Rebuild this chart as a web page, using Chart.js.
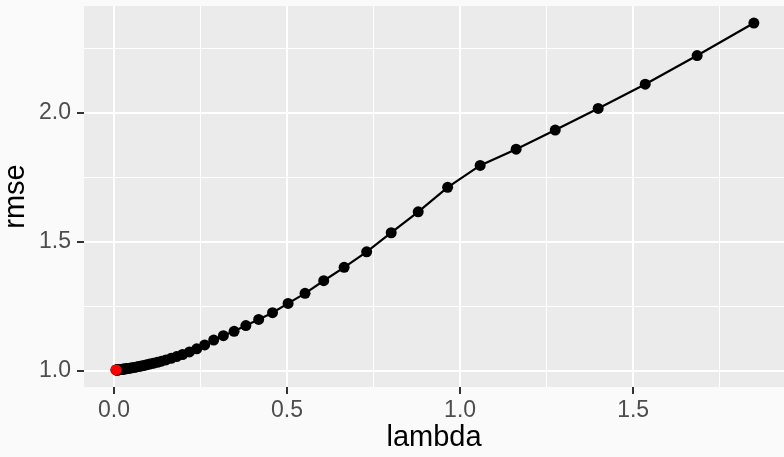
<!DOCTYPE html>
<html>
<head>
<meta charset="utf-8">
<script src="https://cdn.jsdelivr.net/npm/chart.js@4.4.1/dist/chart.umd.min.js"></script>
<style>
  html, body { margin: 0; padding: 0; background: #FAFAFA; overflow: hidden; }
  #wrap { width: 784px; height: 457px; position: relative; }
</style>
</head>
<body>
<div id="wrap"><canvas id="c" width="784" height="457"></canvas></div>
<script>
// ---- data ----
const lambdaValues = [
  1.849, 1.685, 1.535, 1.399, 1.275, 1.162, 1.058, 0.964, 0.879, 0.801,
  0.730, 0.665, 0.606, 0.552, 0.503, 0.458, 0.418, 0.381, 0.347, 0.316,
  0.288, 0.262, 0.239, 0.218, 0.198, 0.181, 0.165, 0.150, 0.137, 0.125,
  0.113, 0.103, 0.0941, 0.0858, 0.0781, 0.0712, 0.0649, 0.0591, 0.0539, 0.0491,
  0.0447, 0.0408, 0.0371, 0.0338, 0.0308, 0.0281, 0.0256, 0.0233, 0.0213, 0.0194,
  0.0177, 0.0161, 0.0147, 0.0134, 0.0122, 0.0111, 0.0101, 0.0092, 0.0084, 0.0077,
  0.0070, 0.0064, 0.0058
];
const rmseValues = [
  2.349, 2.223, 2.112, 2.018, 1.934, 1.860, 1.797, 1.712, 1.617, 1.536,
  1.462, 1.402, 1.350, 1.301, 1.262, 1.226, 1.200, 1.176, 1.154, 1.137,
  1.120, 1.101, 1.086, 1.074, 1.064, 1.056, 1.049, 1.043, 1.038, 1.034,
  1.030, 1.027, 1.024, 1.021, 1.019, 1.017, 1.016, 1.014, 1.013, 1.012,
  1.011, 1.010, 1.009, 1.0085, 1.008, 1.0075, 1.007, 1.0065, 1.006, 1.0058,
  1.0055, 1.0053, 1.005, 1.0048, 1.0047, 1.0046, 1.0045, 1.0044, 1.0043, 1.0042,
  1.0041, 1.0041, 1.004
];
const bestLambda = [0.0058];
const bestRmse = [1.004];

const xTickValues = [0, 0.25, 0.5, 0.75, 1.0, 1.25, 1.5, 1.75];
const xTickLabels = ['0.0', '', '0.5', '', '1.0', '', '1.5', ''];
const yTickValues = [1.0, 1.25, 1.5, 1.75, 2.0, 2.25];
const yTickLabels = ['1.0', '', '1.5', '', '2.0', ''];
const xTitle = 'lambda';
const yTitle = 'rmse';

// ---- build chart ----
const mainPts = lambdaValues.map((x, i) => ({ x: x, y: rmseValues[i] }));
const bestPts = bestLambda.map((x, i) => ({ x: x, y: bestRmse[i] }));

const panelBg = {
  id: 'panelBg',
  beforeDraw(chart) {
    const { ctx, chartArea: a } = chart;
    ctx.save();
    ctx.fillStyle = '#FAFAFA';
    ctx.fillRect(0, 0, chart.width, chart.height);
    ctx.fillStyle = '#EBEBEB';
    ctx.fillRect(a.left, a.top, a.right - a.left, a.bottom - a.top);
    ctx.restore();
  }
};

function isMajor(labels, ctx) {
  const idx = ctx.index;
  return labels[idx] !== undefined && labels[idx] !== '';
}

new Chart(document.getElementById('c'), {
  type: 'scatter',
  data: {
    datasets: [
      {
        data: mainPts,
        showLine: true,
        borderColor: '#000000',
        borderWidth: 2.2,
        backgroundColor: '#000000',
        pointRadius: 5.5,
        pointBorderWidth: 0,
        pointHoverRadius: 5.5,
        order: 2
      },
      {
        data: bestPts,
        showLine: false,
        backgroundColor: '#FF0000',
        borderColor: '#FF0000',
        pointRadius: 5.5,
        pointBorderWidth: 0,
        order: 1
      }
    ]
  },
  options: {
    responsive: false,
    animation: false,
    events: [],
    layout: { autoPadding: false, padding: { top: 6, right: 0, left: 0, bottom: 0 } },
    plugins: { legend: { display: false }, tooltip: { enabled: false } },
    scales: {
      x: {
        type: 'linear',
        min: -0.0867,
        max: 1.936,
        afterBuildTicks(scale) { scale.ticks = xTickValues.map(v => ({ value: v })); },
        afterFit(scale) {
          scale.height = 70;
          scale.paddingLeft = 0; scale.paddingRight = 0;
          scale.paddingTop = 0; scale.paddingBottom = 0;
        },
        border: { display: false },
        grid: {
          color: '#FFFFFF',
          lineWidth: (ctx) => isMajor(xTickLabels, ctx) ? 2 : 1,
          drawTicks: true,
          tickLength: 7,
          tickWidth: 2,
          tickColor: (ctx) => isMajor(xTickLabels, ctx) ? '#333333' : 'rgba(0,0,0,0)'
        },
        ticks: {
          autoSkip: false,
          maxRotation: 0,
          padding: 3,
          color: '#4D4D4D',
          font: { family: '"Liberation Sans", Arial, sans-serif', size: 23 },
          callback: (v, i) => xTickLabels[i]
        },
        title: {
          display: true,
          text: xTitle,
          color: '#000000',
          font: { family: '"Liberation Sans", Arial, sans-serif', size: 29, lineHeight: 1.0 },
          padding: { top: 0, bottom: 5 }
        }
      },
      y: {
        type: 'linear',
        min: 0.938,
        max: 2.415,
        afterBuildTicks(scale) { scale.ticks = yTickValues.map(v => ({ value: v })); },
        afterFit(scale) {
          scale.width = 84;
          scale.paddingLeft = 0; scale.paddingRight = 0;
          scale.paddingTop = 0; scale.paddingBottom = 0;
        },
        border: { display: false },
        grid: {
          color: '#FFFFFF',
          lineWidth: (ctx) => isMajor(yTickLabels, ctx) ? 2 : 1,
          drawTicks: true,
          tickLength: 7,
          tickWidth: 2,
          tickColor: (ctx) => isMajor(yTickLabels, ctx) ? '#333333' : 'rgba(0,0,0,0)'
        },
        ticks: {
          autoSkip: false,
          padding: 6,
          color: '#4D4D4D',
          font: { family: '"Liberation Sans", Arial, sans-serif', size: 23 },
          callback: (v, i) => yTickLabels[i]
        },
        title: {
          display: true,
          text: yTitle,
          color: '#000000',
          font: { family: '"Liberation Sans", Arial, sans-serif', size: 29, lineHeight: 1.0 },
          padding: { top: 1, bottom: 0 }
        }
      }
    }
  },
  plugins: [panelBg]
});
</script>
</body>
</html>
